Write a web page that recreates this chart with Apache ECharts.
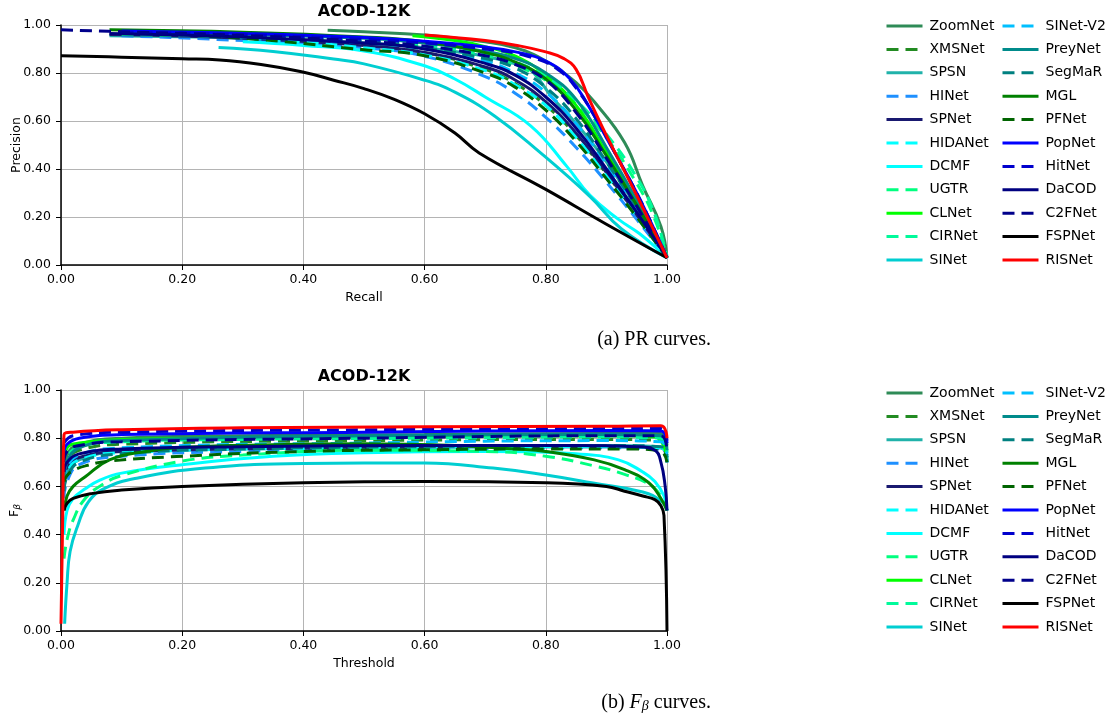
<!DOCTYPE html>
<html>
<head>
<meta charset="utf-8">
<script src="https://cdn.jsdelivr.net/npm/echarts@6/dist/echarts.min.js"></script>
<style>html,body{margin:0;padding:0;background:#fff}#main{width:1109px;height:719px}</style>
</head>
<body>
<div id="main"></div>
<script>
// ---- data ----
const methods = ['ZoomNet','XMSNet','SPSN','HINet','SPNet','HIDANet','DCMF','UGTR','CLNet','CIRNet','SINet',
                 'SINet-V2','PreyNet','SegMaR','MGL','PFNet','PopNet','HitNet','DaCOD','C2FNet','FSPNet','RISNet'];

// PR curves: [recall, precision]
const prZoomNet = [[0.44,0.978],[0.5,0.972],[0.6,0.958],[0.7,0.93],[0.75,0.905],[0.8,0.85],[0.85,0.76],[0.88,0.68],[0.93,0.51],[0.96,0.33],[0.99,0.16],[1,0.03]];
const prXMSNet = [[0.1,0.96],[0.3,0.945],[0.5,0.915],[0.6,0.885],[0.7,0.815],[0.75,0.755],[0.8,0.665],[0.85,0.54],[0.9,0.38],[0.95,0.21],[1,0.03]];
const prSPSN = [[0.08,0.955],[0.3,0.945],[0.5,0.925],[0.6,0.905],[0.7,0.87],[0.76,0.83],[0.78,0.80],[0.81,0.70],[0.85,0.59],[0.9,0.43],[0.95,0.24],[1,0.03]];
const prHINet = [[0.1,0.955],[0.3,0.935],[0.5,0.905],[0.6,0.87],[0.7,0.785],[0.75,0.715],[0.8,0.615],[0.85,0.49],[0.9,0.345],[0.95,0.19],[1,0.03]];
const prSPNet = [[0.08,0.96],[0.3,0.945],[0.5,0.915],[0.6,0.885],[0.7,0.825],[0.75,0.77],[0.8,0.68],[0.85,0.55],[0.9,0.385],[0.95,0.21],[1,0.03]];
const prHIDANet = [[0.28,0.95],[0.4,0.928],[0.5,0.905],[0.6,0.875],[0.7,0.81],[0.75,0.75],[0.8,0.665],[0.85,0.53],[0.9,0.37],[0.95,0.2],[1,0.03]];
const prDCMF = [[0.3,0.93],[0.4,0.915],[0.5,0.892],[0.6,0.83],[0.65,0.775],[0.7,0.70],[0.775,0.58],[0.835,0.41],[0.873,0.29],[0.92,0.19],[0.955,0.13],[1,0.03]];
const prUGTR = [[0.1,0.96],[0.3,0.95],[0.5,0.93],[0.6,0.905],[0.7,0.865],[0.75,0.83],[0.8,0.77],[0.85,0.67],[0.9,0.53],[0.95,0.34],[0.98,0.19],[1,0.03]];
const prCLNet = [[0.58,0.955],[0.65,0.935],[0.7,0.91],[0.75,0.87],[0.8,0.79],[0.85,0.665],[0.9,0.47],[0.95,0.26],[1,0.03]];
const prCIRNet = [[0.1,0.965],[0.3,0.955],[0.5,0.937],[0.6,0.917],[0.7,0.878],[0.75,0.845],[0.8,0.785],[0.85,0.685],[0.9,0.545],[0.95,0.365],[0.98,0.21],[1,0.03]];
const prSINet = [[0.26,0.906],[0.35,0.89],[0.45,0.858],[0.5,0.838],[0.6,0.77],[0.65,0.72],[0.716,0.62],[0.79,0.47],[0.873,0.285],[0.925,0.15],[1,0.03]];
const prSINetV2 = [[0.1,0.965],[0.3,0.95],[0.5,0.925],[0.6,0.9],[0.7,0.85],[0.75,0.80],[0.8,0.72],[0.85,0.59],[0.9,0.42],[0.95,0.23],[1,0.03]];
const prPreyNet = [[0.1,0.97],[0.3,0.96],[0.5,0.945],[0.6,0.925],[0.7,0.89],[0.75,0.86],[0.8,0.80],[0.85,0.69],[0.9,0.49],[0.95,0.27],[1,0.03]];
const prSegMaR = [[0.1,0.965],[0.3,0.95],[0.5,0.93],[0.6,0.905],[0.7,0.86],[0.75,0.82],[0.8,0.74],[0.85,0.61],[0.9,0.43],[0.95,0.24],[1,0.03]];
const prMGL = [[0.08,0.98],[0.3,0.97],[0.5,0.95],[0.6,0.93],[0.7,0.885],[0.75,0.845],[0.8,0.775],[0.85,0.645],[0.9,0.455],[0.95,0.25],[1,0.03]];
const prPFNet = [[0.15,0.965],[0.3,0.945],[0.5,0.897],[0.6,0.872],[0.7,0.80],[0.75,0.74],[0.8,0.645],[0.85,0.515],[0.9,0.36],[0.95,0.2],[1,0.03]];
const prPopNet = [[0.1,0.975],[0.3,0.965],[0.5,0.948],[0.6,0.932],[0.7,0.908],[0.75,0.888],[0.8,0.85],[0.84,0.775],[0.87,0.665],[0.9,0.53],[0.95,0.30],[1,0.03]];
const prHitNet = [[0.1,0.97],[0.3,0.96],[0.5,0.94],[0.6,0.925],[0.7,0.9],[0.77,0.87],[0.82,0.815],[0.855,0.72],[0.885,0.60],[0.92,0.44],[0.96,0.25],[1,0.03]];
const prDaCOD = [[0.08,0.965],[0.3,0.95],[0.5,0.925],[0.6,0.9],[0.7,0.84],[0.75,0.79],[0.8,0.70],[0.85,0.57],[0.9,0.40],[0.95,0.22],[1,0.03]];
const prC2FNet = [[0,0.98],[0.1,0.972],[0.3,0.957],[0.5,0.932],[0.6,0.912],[0.7,0.872],[0.75,0.835],[0.8,0.77],[0.85,0.635],[0.9,0.445],[0.95,0.245],[1,0.03]];
const prFSPNet = [[0,0.872],[0.1,0.866],[0.2,0.859],[0.262,0.854],[0.33,0.835],[0.397,0.805],[0.45,0.77],[0.5,0.735],[0.55,0.69],[0.6,0.63],[0.65,0.55],[0.69,0.467],[0.8,0.315],[0.9,0.17],[1,0.03]];
const prRISNet = [[0.6,0.958],[0.7,0.935],[0.75,0.916],[0.8,0.888],[0.83,0.86],[0.85,0.815],[0.87,0.70],[0.9,0.54],[0.95,0.29],[1,0.03]];

// F-beta curves: [threshold, F]
const fZoomNet = [[0.005,0.65],[0.01,0.73],[0.03,0.775],[0.1,0.80],[0.3,0.81],[0.6,0.815],[0.9,0.82],[0.99,0.82],[1,0.77]];
const fXMSNet = [[0.005,0.66],[0.01,0.71],[0.03,0.75],[0.1,0.775],[0.5,0.79],[0.9,0.795],[0.99,0.79],[1,0.73]];
const fSPSN = [[0.005,0.60],[0.01,0.66],[0.03,0.71],[0.1,0.745],[0.5,0.765],[0.9,0.77],[0.99,0.765],[1,0.70]];
const fHINet = [[0.005,0.55],[0.01,0.62],[0.03,0.69],[0.1,0.725],[0.3,0.745],[0.6,0.755],[0.9,0.76],[0.99,0.755],[1,0.70]];
const fSPNet = [[0.005,0.63],[0.01,0.68],[0.03,0.72],[0.1,0.745],[0.5,0.76],[0.9,0.765],[0.99,0.76],[1,0.70]];
const fHIDANet = [[0.005,0.60],[0.01,0.66],[0.03,0.71],[0.1,0.74],[0.5,0.76],[0.9,0.765],[0.99,0.76],[1,0.70]];
const fDCMF = [[0.005,0.40],[0.01,0.50],[0.02,0.55],[0.04,0.59],[0.065,0.627],[0.1,0.655],[0.2,0.69],[0.35,0.725],[0.5,0.74],[0.7,0.745],[0.85,0.735],[0.92,0.71],[0.96,0.66],[0.98,0.62],[0.995,0.56],[1,0.50]];
const fUGTR = [[0.005,0.30],[0.01,0.38],[0.02,0.46],[0.04,0.55],[0.07,0.61],[0.1,0.645],[0.2,0.705],[0.3,0.73],[0.5,0.75],[0.7,0.745],[0.8,0.725],[0.88,0.685],[0.93,0.65],[0.97,0.61],[0.99,0.56],[1,0.50]];
const fCLNet = [[0.005,0.70],[0.01,0.76],[0.03,0.78],[0.1,0.795],[0.5,0.805],[0.9,0.81],[0.98,0.805],[1,0.72]];
const fCIRNet = [[0.005,0.66],[0.01,0.72],[0.03,0.765],[0.1,0.785],[0.3,0.795],[0.6,0.80],[0.9,0.805],[0.99,0.80],[1,0.74]];
const fSINet = [[0.006,0.03],[0.01,0.2],[0.015,0.33],[0.028,0.44],[0.045,0.535],[0.073,0.593],[0.127,0.635],[0.238,0.676],[0.4,0.695],[0.6,0.697],[0.713,0.676],[0.8,0.647],[0.878,0.614],[0.96,0.577],[0.99,0.54],[1,0.50]];
const fSINetV2 = [[0.005,0.62],[0.01,0.68],[0.03,0.73],[0.1,0.76],[0.5,0.78],[0.9,0.79],[0.99,0.785],[1,0.72]];
const fPreyNet = [[0.005,0.62],[0.01,0.70],[0.03,0.76],[0.1,0.79],[0.5,0.81],[0.9,0.815],[0.99,0.81],[1,0.75]];
const fSegMaR = [[0.005,0.58],[0.01,0.64],[0.03,0.70],[0.1,0.735],[0.3,0.755],[0.6,0.765],[0.9,0.77],[0.99,0.765],[1,0.72]];
const fMGL = [[0.005,0.50],[0.01,0.56],[0.02,0.60],[0.04,0.64],[0.08,0.71],[0.14,0.745],[0.2,0.762],[0.35,0.773],[0.5,0.777],[0.65,0.77],[0.75,0.755],[0.8,0.745],[0.88,0.71],[0.93,0.67],[0.97,0.615],[0.99,0.55],[1,0.50]];
const fPFNet = [[0.005,0.62],[0.01,0.645],[0.02,0.665],[0.04,0.685],[0.08,0.705],[0.2,0.725],[0.4,0.745],[0.6,0.752],[0.8,0.755],[0.95,0.755],[0.99,0.745],[1,0.70]];
const fPopNet = [[0.005,0.74],[0.01,0.775],[0.03,0.80],[0.1,0.815],[0.5,0.825],[0.9,0.832],[0.99,0.83],[1,0.78]];
const fHitNet = [[0.005,0.78],[0.02,0.81],[0.1,0.825],[0.5,0.835],[0.9,0.84],[0.99,0.84],[1,0.79]];
const fDaCOD = [[0.005,0.66],[0.01,0.70],[0.03,0.735],[0.1,0.755],[0.3,0.765],[0.6,0.77],[0.85,0.77],[0.95,0.765],[0.98,0.75],[0.99,0.70],[0.997,0.60],[1,0.50]];
const fC2FNet = [[0.005,0.70],[0.01,0.745],[0.03,0.77],[0.1,0.785],[0.5,0.80],[0.9,0.81],[0.99,0.81],[1,0.74]];
const fFSPNet = [[0.005,0.50],[0.01,0.53],[0.02,0.55],[0.05,0.57],[0.1,0.585],[0.2,0.60],[0.4,0.615],[0.6,0.62],[0.8,0.615],[0.9,0.60],[0.93,0.58],[0.96,0.56],[0.98,0.545],[0.99,0.52],[0.995,0.48],[1,0.0]];
const fRISNet = [[0,0.03],[0.003,0.5],[0.005,0.815],[0.02,0.825],[0.1,0.835],[0.3,0.843],[0.6,0.847],[0.9,0.85],[0.99,0.852],[1,0.80]];

const prCurves = [prZoomNet,prXMSNet,prSPSN,prHINet,prSPNet,prHIDANet,prDCMF,prUGTR,prCLNet,prCIRNet,prSINet,
                  prSINetV2,prPreyNet,prSegMaR,prMGL,prPFNet,prPopNet,prHitNet,prDaCOD,prC2FNet,prFSPNet,prRISNet];
const fCurves = [fZoomNet,fXMSNet,fSPSN,fHINet,fSPNet,fHIDANet,fDCMF,fUGTR,fCLNet,fCIRNet,fSINet,
                 fSINetV2,fPreyNet,fSegMaR,fMGL,fPFNet,fPopNet,fHitNet,fDaCOD,fC2FNet,fFSPNet,fRISNet];

// ---- styles ----
const colors = ['#2E8B57','#228B22','#20B2AA','#1E90FF','#191970','#00FFFF','#00FFFF','#00FF7F','#00FF00','#00FA9A','#00CED1',
                '#00BFFF','#008B8B','#008080','#008000','#006400','#0000FF','#0000CD','#000080','#00008B','#000000','#FF0000'];
const dashed = [false,true,false,true,false,true,false,true,false,true,false,
                true,false,true,false,true,false,true,false,true,false,false];

const FONT = 'DejaVu Sans';
const chart = echarts.init(document.getElementById('main'), null, {renderer:'canvas'});

function xAx(grid, name) {
  return {
    gridIndex: grid, type: 'value', min: 0, max: 1, interval: 0.2,
    name: name, nameLocation: 'middle', nameGap: 26, nameMoveOverlap: false,
    nameTextStyle: {fontFamily: FONT, fontSize: 12.5, color: '#000'},
    axisLine: {show: true, onZero: false, lineStyle: {color: '#000', width: 1.5}},
    axisTick: {show: true, length: 5, lineStyle: {color: '#000', width: 1}},
    axisLabel: {formatter: v => v.toFixed(2), color: '#000', fontFamily: FONT, fontSize: 12.5, margin: 8},
    splitLine: {show: true, lineStyle: {color: '#b4b4b4', width: 1}}
  };
}
function yAx(grid, name, gap, rich) {
  return {
    gridIndex: grid, type: 'value', min: 0, max: 1, interval: 0.2,
    name: name, nameLocation: 'middle', nameGap: gap, nameRotate: 90, nameMoveOverlap: false,
    nameTextStyle: Object.assign({fontFamily: FONT, fontSize: 12.5, color: '#000'}, rich ? {lineHeight: 14, rich: rich} : {}),
    axisLine: {show: true, onZero: false, lineStyle: {color: '#000', width: 1.5}},
    axisTick: {show: true, length: 5, lineStyle: {color: '#000', width: 1}},
    axisLabel: {formatter: v => v.toFixed(2), color: '#000', fontFamily: FONT, fontSize: 12.5, margin: 10},
    splitLine: {show: true, lineStyle: {color: '#b4b4b4', width: 1}}
  };
}

const series = [];
[prCurves, fCurves].forEach((curves, g) => {
  methods.forEach((m, i) => {
    series.push({
      name: m, type: 'line', xAxisIndex: g, yAxisIndex: g,
      data: curves[i], symbol: 'none', smooth: 0.45,
      lineStyle: {color: colors[i], width: 3, type: dashed[i] ? [12, 7] : 'solid'},
      itemStyle: {color: colors[i]},
      silent: true
    });
  });
});

function legend(left, top, names) {
  return {
    orient: 'vertical', left: left, top: top, padding: 0, itemWidth: 36, itemHeight: 14, itemGap: 9.4,
    selectedMode: false, data: names,
    lineStyle: {width: 3},
    itemStyle: {color: 'rgba(0,0,0,0)', borderWidth: 0, opacity: 0},
    textStyle: {fontFamily: FONT, fontSize: 14, color: '#000', lineHeight: 14, padding: [0, 0, 0, 2]}
  };
}

const option = {
  animation: false,
  backgroundColor: '#fff',
  grid: [
    {left: 61, top: 25, width: 606, height: 240, containLabel: false, outerBoundsMode: 'none'},
    {left: 61, top: 390, width: 606, height: 241, containLabel: false, outerBoundsMode: 'none'}
  ],
  xAxis: [xAx(0, 'Recall'), xAx(1, 'Threshold')],
  yAxis: [
    yAx(0, 'Precision', 38),
    yAx(1, 'F{s|β}', 39, {s: {fontFamily: FONT, fontSize: 9, fontStyle: 'italic', color: '#000', verticalAlign: 'bottom', lineHeight: 6}})
  ],
  legend: [
    legend(885, 19, methods.slice(0, 11)),
    legend(1001, 19, methods.slice(11)),
    legend(885, 386, methods.slice(0, 11)),
    legend(1001, 386, methods.slice(11))
  ],
  graphic: [
    {type: 'text', x: 364, y: 12, silent: true, style: {text: 'ACOD-12K', font: 'bold 16px "DejaVu Sans"', fill: '#000', align: 'center', verticalAlign: 'middle'}},
    {type: 'text', x: 364, y: 377, silent: true, style: {text: 'ACOD-12K', font: 'bold 16px "DejaVu Sans"', fill: '#000', align: 'center', verticalAlign: 'middle'}},
    {type: 'text', x: 711, y: 340, silent: true, style: {text: '(a) PR curves.', font: '20px "Liberation Serif"', fill: '#000', align: 'right', verticalAlign: 'middle'}},
    {type: 'text', x: 711, y: 703, silent: true, style: {
      text: '(b) {f|F}{s|β} curves.', font: '20px "Liberation Serif"', fill: '#000', align: 'right', verticalAlign: 'middle',
      rich: {
        f: {font: 'italic 20px "Liberation Serif"', fill: '#000'},
        s: {font: 'italic 14px "Liberation Serif"', fill: '#000', verticalAlign: 'bottom', lineHeight: 10}
      }}}
  ],
  series: series
};
chart.setOption(option);
</script>
</body>
</html>
